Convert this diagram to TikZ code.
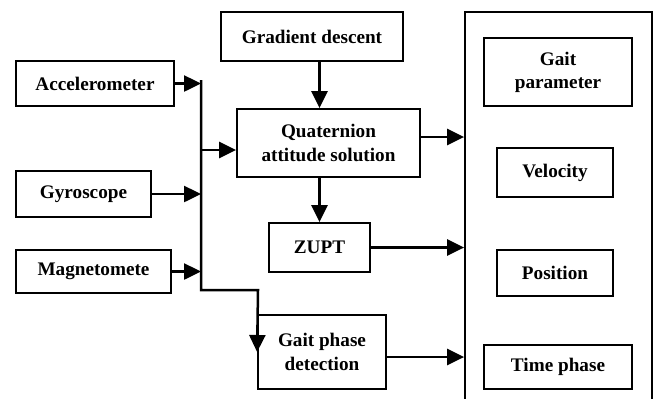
\documentclass[tikz,border=0pt]{standalone}
\usepackage{fontspec}
\setmainfont{Liberation Serif}
\usetikzlibrary{arrows.meta, positioning, calc}
\tikzset{
  every picture/.style={font=\fontsize{9.6}{11.6}\selectfont\bfseries, line width=0.9pt},
  box/.style={draw=black, align=center, inner sep=0pt, minimum width=#1},
  box/.default=60pt,
  arrow/.style={-{Triangle[length=8.5pt, width=8pt]}, draw=black, line width=1.25pt},
}

\begin{document}
\begin{tikzpicture}[x=0.5pt, y=-0.5pt]
  \useasboundingbox (0,0) rectangle (656,398);
  % inputs
  \node[box=79pt,   minimum height=22.5pt] (acc)  at (95,83.5)   {Accelerometer};
  \node[box=67.5pt, minimum height=23pt]   (gyro) at (83.5,194)  {Gyroscope};
  \node[box=77.5pt, minimum height=21.5pt] (mag)  at (93.5,271.5) {Magnetomete};
  % processing
  \node[box=91pt,   minimum height=24.5pt] (grad) at (312,36.5)  {Gradient descent};
  \node[box=91.5pt, minimum height=34pt]   (quat) at (328.5,143) {Quaternion\\attitude solution};
  \node[box=50.5pt, minimum height=24.5pt] (zupt) at (319.5,247.5) {ZUPT};
  \node[box=64pt,   minimum height=37pt]   (gpd)  at (322,352)   {Gait phase\\detection};
  % outputs
  \node[box=93.5pt, minimum height=204pt]  (outbox) at (558.5,216) {};
  \node[box=74pt,   minimum height=34pt]   (gaitp) at (558,72)   {Gait\\parameter};
  \node[box=58pt,   minimum height=24.5pt] (vel)   at (555,172.5) {Velocity};
  \node[box=58pt,   minimum height=23pt]   (pos)   at (555,273)  {Position};
  \node[box=74pt,   minimum height=22pt]   (tph)   at (558,367)  {Time phase};
  % bus
  \coordinate (bustop) at (201,80);
  \coordinate (bend) at (258,290);
  \coordinate (quatin) at ([yshift=-3.5pt]quat.west);
  \coordinate (quatout) at ([yshift=3pt]quat.east);
  \coordinate (gpdout) at ([yshift=-2.5pt]gpd.east);
  \foreach \n in {acc,gyro,mag} \draw[arrow] (\n.east) -- (\n.east -| bustop);
  \draw[arrow] (bustop) |- (bend) -- (gpd.west);
  \draw[arrow] (bustop |- quatin) -- (quatin);
  \draw[arrow] (grad.south -| zupt) -- (quat.north -| zupt);
  \draw[arrow] (quat.south -| zupt) -- (zupt.north);
  % to outputs
  \foreach \n in {quatout,zupt.east,gpdout} \draw[arrow] (\n) -- (\n -| outbox.west);
\end{tikzpicture}
\end{document}
